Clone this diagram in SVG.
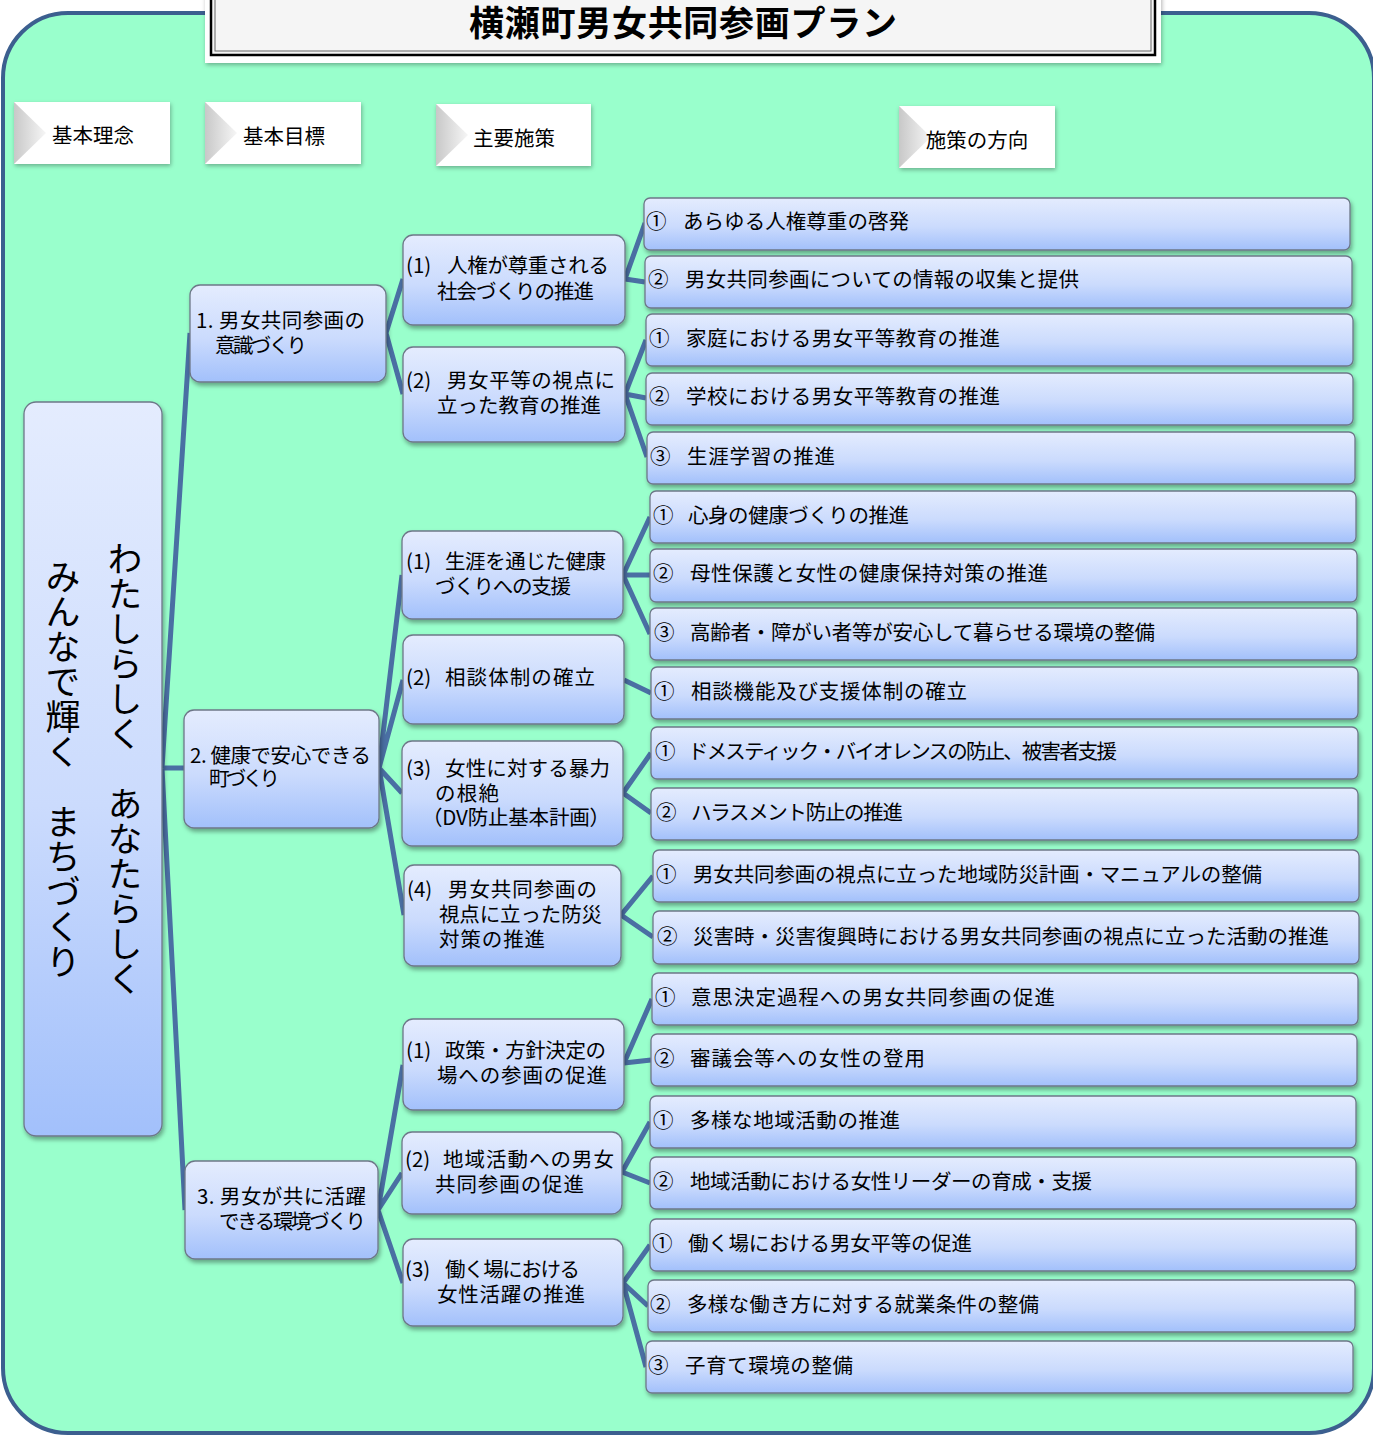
<svg xmlns="http://www.w3.org/2000/svg" width="1373" height="1436" viewBox="0 0 1373 1436">
<defs>
<linearGradient id="g" x1="0" y1="0" x2="0" y2="1"><stop offset="0" stop-color="#e4ecfe"/><stop offset="0.55" stop-color="#cbdbfd"/><stop offset="1" stop-color="#a2c0fb"/></linearGradient>
<linearGradient id="bev" x1="0" y1="0" x2="1" y2="0"><stop offset="0" stop-color="#c8c8c8"/><stop offset="1" stop-color="#f6f6f6"/></linearGradient>
<filter id="sh" x="-10%" y="-10%" width="125%" height="140%"><feDropShadow dx="1.5" dy="3" stdDeviation="2" flood-color="#000" flood-opacity="0.35"/></filter>
<filter id="sh2" x="-10%" y="-10%" width="125%" height="140%"><feDropShadow dx="1" dy="2" stdDeviation="2" flood-color="#000" flood-opacity="0.3"/></filter>
</defs>
<style>
text{font-family:"Noto Sans CJK JP","Noto Sans",sans-serif;font-size:20.5px;fill:#000}
.n rect{fill:url(#g);stroke:#6d7788;stroke-width:1.3;filter:url(#sh)}
.c path{stroke:#4a6fa3;stroke-width:5;fill:none}
.h rect{fill:#fff;filter:url(#sh2)}
.h polygon{fill:url(#bev)}
.h text{text-anchor:middle}
.v{font-size:35px;writing-mode:vertical-rl;text-anchor:middle}
</style>
<rect x="0" y="0" width="1373" height="1436" fill="#fff"/>
<rect id="panel" x="3" y="13" width="1371" height="1420" rx="65" fill="#99ffcc" stroke="#3c5f8f" stroke-width="4"/>

<g id="title">
<rect x="205" y="-10" width="956" height="73" fill="#fff" filter="url(#sh2)"/>
<rect x="211" y="-10" width="944" height="65" fill="#f5f5f5" stroke="#000" stroke-width="2.5"/>
<rect x="215" y="-10" width="936" height="61" fill="none" stroke="#666" stroke-width="1"/>
<text x="683" y="36" text-anchor="middle" textLength="428" style="font-size:35px;font-weight:bold">横瀬町男女共同参画プラン</text>
</g>

<g id="headers" class="h">
<g id="h1"><rect x="14" y="102" width="156" height="62"/><polygon points="14,102 46,133 14,164"/><text x="93" y="143">基本理念</text></g>
<g id="h2"><rect x="205" y="102" width="156" height="62"/><polygon points="205,102 237,133 205,164"/><text x="284" y="144">基本目標</text></g>
<g id="h3"><rect x="436" y="104" width="155" height="62"/><polygon points="436,104 468,135 436,166"/><text x="514" y="146">主要施策</text></g>
<g id="h4"><rect x="899" y="106" width="156" height="62"/><polygon points="899,106 931,137 899,168"/><text x="977" y="148">施策の方向</text></g>
</g>

<g id="connectors" class="c">
<path d="M162,768 L190,333 M162,768 L184,768 M162,768 L185,1210"/>
<path d="M386,333 L403,279 M386,333 L403,394"/>
<path d="M379,768 L402,575 M379,768 L403,680 M379,768 L402,793 M379,768 L404,915"/>
<path d="M378,1210 L403,1065 M378,1210 L402,1173 M378,1210 L403,1283"/>
<path d="M625,279 L645,223 M625,279 L645,282"/>
<path d="M625,394 L646,340 M625,394 L646,398 M625,394 L647,457"/>
<path d="M623,575 L650,517 M623,575 L650,575 M623,575 L650,634"/>
<path d="M624,680 L651,693"/>
<path d="M623,793 L651,753 M623,793 L651,813"/>
<path d="M621,915 L653,876 M621,915 L653,937"/>
<path d="M624,1063 L652,999 M624,1063 L651,1060"/>
<path d="M622,1172 L650,1122 M622,1172 L650,1183"/>
<path d="M623,1283 L650,1245 M623,1283 L648,1306 M623,1283 L646,1367"/>
</g>

<g id="root" class="n">
<rect x="24" y="402" width="138" height="734" rx="12"/>
<text class="v" x="125" y="769">わたしらしく　あなたらしく</text>
<text class="v" x="63" y="769">みんなで輝く　まちづくり</text>
</g>

<g id="g1" class="n"><rect x="190" y="285" width="196" height="97" rx="10"/>
<text><tspan x="196" y="328" textLength="169">1. 男女共同参画の</tspan><tspan x="215" y="353" textLength="92">意識づくり</tspan></text></g>
<g id="g2" class="n"><rect x="184" y="710" width="195" height="118" rx="10"/>
<text><tspan x="190" y="763" textLength="181">2. 健康で安心できる</tspan><tspan x="209" y="786" textLength="71">町づくり</tspan></text></g>
<g id="g3" class="n"><rect x="185" y="1161" width="193" height="98" rx="10"/>
<text><tspan x="197" y="1204" textLength="169">3. 男女が共に活躍</tspan><tspan x="219" y="1229" textLength="147">できる環境づくり</tspan></text></g>

<g id="m11" class="n"><rect x="403" y="235" width="222" height="90" rx="10"/>
<text><tspan x="406" y="273">(1)</tspan><tspan x="447" y="273" textLength="162">人権が尊重される</tspan><tspan x="437" y="299" textLength="157">社会づくりの推進</tspan></text></g>
<g id="m12" class="n"><rect x="403" y="347" width="222" height="95" rx="10"/>
<text><tspan x="406" y="388">(2)</tspan><tspan x="447" y="388" textLength="168">男女平等の視点に</tspan><tspan x="437" y="413" textLength="164">立った教育の推進</tspan></text></g>
<g id="m21" class="n"><rect x="402" y="531" width="221" height="88" rx="10"/>
<text><tspan x="406" y="569">(1)</tspan><tspan x="445" y="569" textLength="161">生涯を通じた健康</tspan><tspan x="435" y="594" textLength="136">づくりへの支援</tspan></text></g>
<g id="m22" class="n"><rect x="403" y="635" width="221" height="89" rx="10"/>
<text><tspan x="406" y="685">(2)</tspan><tspan x="445" y="685" textLength="150">相談体制の確立</tspan></text></g>
<g id="m23" class="n"><rect x="402" y="741" width="221" height="105" rx="10"/>
<text><tspan x="406" y="776">(3)</tspan><tspan x="445" y="776" textLength="165">女性に対する暴力</tspan><tspan x="435" y="801" textLength="64">の根絶</tspan><tspan x="422" y="825" textLength="188">（DV防止基本計画）</tspan></text></g>
<g id="m24" class="n"><rect x="404" y="865" width="217" height="101" rx="10"/>
<text><tspan x="407" y="897">(4)</tspan><tspan x="448" y="897" textLength="149">男女共同参画の</tspan><tspan x="439" y="922" textLength="163">視点に立った防災</tspan><tspan x="439" y="947" textLength="106">対策の推進</tspan></text></g>
<g id="m31" class="n"><rect x="403" y="1019" width="221" height="91" rx="10"/>
<text><tspan x="406" y="1058">(1)</tspan><tspan x="445" y="1058" textLength="161">政策・方針決定の</tspan><tspan x="437" y="1083" textLength="170">場への参画の促進</tspan></text></g>
<g id="m32" class="n"><rect x="402" y="1132" width="220" height="82" rx="10"/>
<text><tspan x="405" y="1167">(2)</tspan><tspan x="443" y="1167" textLength="171">地域活動への男女</tspan><tspan x="435" y="1192" textLength="149">共同参画の促進</tspan></text></g>
<g id="m33" class="n"><rect x="403" y="1239" width="220" height="87" rx="10"/>
<text><tspan x="405" y="1277">(3)</tspan><tspan x="445" y="1277" textLength="135">働く場における</tspan><tspan x="437" y="1302" textLength="148">女性活躍の推進</tspan></text></g>

<g id="d01" class="n"><rect x="644" y="198" width="706" height="52" rx="6"/><text y="229"><tspan x="646">①</tspan><tspan x="683" textLength="226">あらゆる人権尊重の啓発</tspan></text></g>
<g id="d02" class="n"><rect x="645" y="256" width="707" height="52" rx="6"/><text y="287"><tspan x="648">②</tspan><tspan x="685" textLength="394">男女共同参画についての情報の収集と提供</tspan></text></g>
<g id="d03" class="n"><rect x="646" y="314" width="707" height="52" rx="6"/><text y="346"><tspan x="649">①</tspan><tspan x="686" textLength="314">家庭における男女平等教育の推進</tspan></text></g>
<g id="d04" class="n"><rect x="646" y="373" width="707" height="52" rx="6"/><text y="404"><tspan x="649">②</tspan><tspan x="686" textLength="314">学校における男女平等教育の推進</tspan></text></g>
<g id="d05" class="n"><rect x="647" y="432" width="708" height="52" rx="6"/><text y="464"><tspan x="650">③</tspan><tspan x="687" textLength="148">生涯学習の推進</tspan></text></g>
<g id="d06" class="n"><rect x="650" y="491" width="706" height="52" rx="6"/><text y="523"><tspan x="653">①</tspan><tspan x="688" textLength="221">心身の健康づくりの推進</tspan></text></g>
<g id="d07" class="n"><rect x="650" y="549" width="707" height="53" rx="6"/><text y="581"><tspan x="653">②</tspan><tspan x="690" textLength="358">母性保護と女性の健康保持対策の推進</tspan></text></g>
<g id="d08" class="n"><rect x="650" y="608" width="707" height="52" rx="6"/><text y="640"><tspan x="654">③</tspan><tspan x="690" textLength="465">高齢者・障がい者等が安心して暮らせる環境の整備</tspan></text></g>
<g id="d09" class="n"><rect x="651" y="667" width="707" height="52" rx="6"/><text y="699"><tspan x="654">①</tspan><tspan x="691" textLength="276">相談機能及び支援体制の確立</tspan></text></g>
<g id="d10" class="n"><rect x="651" y="727" width="707" height="52" rx="6"/><text y="759"><tspan x="655">①</tspan><tspan x="688" textLength="429">ドメスティック・バイオレンスの防止、被害者支援</tspan></text></g>
<g id="d11" class="n"><rect x="651" y="788" width="707" height="52" rx="6"/><text y="820"><tspan x="656">②</tspan><tspan x="691" textLength="212">ハラスメント防止の推進</tspan></text></g>
<g id="d12" class="n"><rect x="653" y="850" width="706" height="52" rx="6"/><text y="882"><tspan x="656">①</tspan><tspan x="693" textLength="569">男女共同参画の視点に立った地域防災計画・マニュアルの整備</tspan></text></g>
<g id="d13" class="n"><rect x="653" y="911" width="706" height="53" rx="6"/><text y="944"><tspan x="657">②</tspan><tspan x="693" textLength="636">災害時・災害復興時における男女共同参画の視点に立った活動の推進</tspan></text></g>
<g id="d14" class="n"><rect x="652" y="973" width="706" height="52" rx="6"/><text y="1005"><tspan x="655">①</tspan><tspan x="691" textLength="364">意思決定過程への男女共同参画の促進</tspan></text></g>
<g id="d15" class="n"><rect x="651" y="1034" width="706" height="52" rx="6"/><text y="1066"><tspan x="654">②</tspan><tspan x="690" textLength="235">審議会等への女性の登用</tspan></text></g>
<g id="d16" class="n"><rect x="650" y="1096" width="706" height="52" rx="6"/><text y="1128"><tspan x="653">①</tspan><tspan x="690" textLength="210">多様な地域活動の推進</tspan></text></g>
<g id="d17" class="n"><rect x="650" y="1157" width="706" height="52" rx="6"/><text y="1189"><tspan x="653">②</tspan><tspan x="690" textLength="402">地域活動における女性リーダーの育成・支援</tspan></text></g>
<g id="d18" class="n"><rect x="650" y="1219" width="706" height="52" rx="6"/><text y="1251"><tspan x="652">①</tspan><tspan x="688" textLength="284">働く場における男女平等の促進</tspan></text></g>
<g id="d19" class="n"><rect x="648" y="1280" width="707" height="52" rx="6"/><text y="1312"><tspan x="650">②</tspan><tspan x="687" textLength="352">多様な働き方に対する就業条件の整備</tspan></text></g>
<g id="d20" class="n"><rect x="646" y="1341" width="707" height="52" rx="6"/><text y="1373"><tspan x="648">③</tspan><tspan x="685" textLength="168">子育て環境の整備</tspan></text></g>
</svg>
